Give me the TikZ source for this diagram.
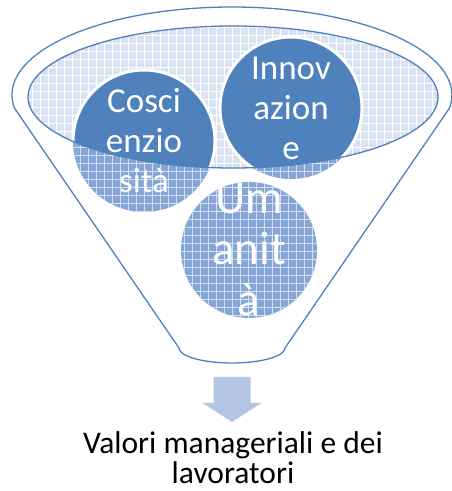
\documentclass[tikz,border=0pt]{standalone}
\usepackage{fontspec}
\setmainfont{Carlito}
\usetikzlibrary{patterns.meta}
\definecolor{accent}{HTML}{4F81BD}
\definecolor{hatchblue}{HTML}{86A6D8}
\definecolor{hatchpale}{HTML}{D9E2F1}
\definecolor{arrowblue}{HTML}{B4C6E4}

\begin{document}
\begin{tikzpicture}[x=1pt,y=1pt,
    grid/.style={postaction={pattern={Lines[distance=8pt,angle=0,line width=0.6pt]},pattern color=#1},
                 postaction={pattern={Lines[distance=8pt,angle=90,line width=0.6pt]},pattern color=#1}},
    rim/.style={draw=accent, line width=1.3pt},
    ball/.style={fill=accent, draw=white, line width=3pt},
    balltext/.style={text=white, align=center, inner sep=0pt},
    ]
        \useasboundingbox (0,0) rectangle (452,491);

        \coordinate (cosc) at (144,350);
        \coordinate (innov) at (291,383);
        \coordinate (uman) at (249,241);
        \coordinate (mouth) at (233,394);

        % funnel
        \draw[rim] (14.4,383) arc[start angle=188.5, end angle=-8.5, x radius=220, y radius=88]
            -- (285,143) arc[start angle=0, end angle=-180, x radius=53, y radius=15] -- cycle;

        % mouth of the funnel
        \fill[hatchpale, grid=white] (mouth) ellipse[x radius=205, y radius=71];

        % balls seen through the funnel
        \fill[hatchblue, grid=white!65!hatchblue] (cosc) circle[radius=71];
        \fill[hatchblue, grid=white!65!hatchblue] (innov) circle[radius=71];
        \fill[hatchblue, grid=white!65!hatchblue] (uman) circle[radius=68];

        % balls in the mouth
        \begin{scope}
            \clip (mouth) ellipse[x radius=205, y radius=71];
            \filldraw[ball] (cosc) circle[radius=71];
            \filldraw[ball] (innov) circle[radius=71];
        \end{scope}
        \draw[rim] (mouth) ellipse[x radius=205, y radius=71];

        \node[balltext, font=\fontsize{35}{40}\selectfont] (cosctext) at (cosc) {Cosci\\enzio\\sità};
        \node[balltext, font=\fontsize{35}{40}\selectfont] (innovtext) at (innov) {Innov\\azion\\e};
        \node[balltext, font=\fontsize{47}{51}\selectfont] (umantext) at (uman) {Um\\anit\\à};

        % arrow
        \fill[arrowblue] (213.5,114) -- (250.5,114) -- (250.5,88) -- (261.5,88) -- (232,69)
            -- (202.5,88) -- (213.5,88) -- cycle;

        \node[align=center, inner sep=0pt, font=\fontsize{31.5}{30}\selectfont] (valori) at (233,33.5)
            {Valori manageriali e dei\\lavoratori};

    \end{tikzpicture}
\end{document}
